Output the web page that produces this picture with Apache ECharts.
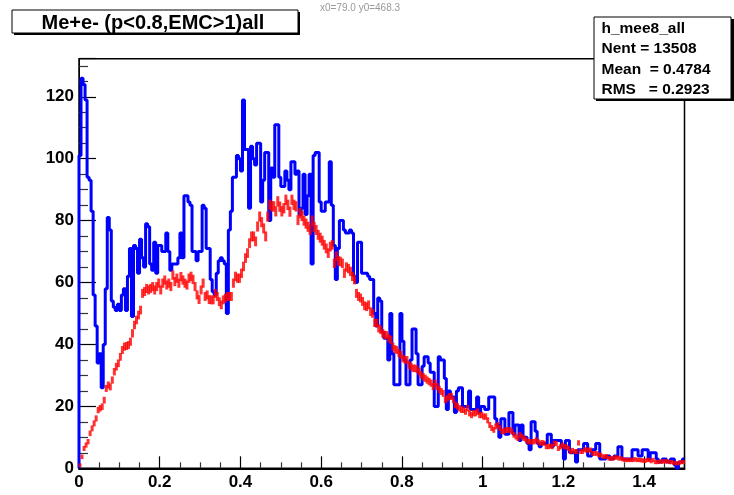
<!DOCTYPE html>
<html><head><meta charset="utf-8">
<script src="https://cdn.jsdelivr.net/npm/echarts@6/dist/echarts.min.js"></script>
<style>html,body{margin:0;padding:0;background:#fff}#c{width:734px;height:495px}#dbg{position:absolute;left:320px;top:2px;font:10px sans-serif;color:#999}</style>
</head><body><div id="c"></div><div id="dbg"></div>
<script>
window.onerror = function (m) { document.getElementById('dbg').textContent += ' ERR:' + m; };
// Histogram binning (300 bins over 0..1.5)
const binLow = 0, binWidth = 0.005;

// blue histogram: h_mee8_all counts per bin
const blueCounts = [
101,126,124,119,94,93,83,56,46,34,
37,26,40,58,81,77,54,52,51,53,
51,56,58,51,62,71,49,72,71,63,
74,68,65,79,78,66,64,73,63,72,
72,70,70,76,70,64,66,66,66,68,
76,68,88,88,86,85,70,70,67,70,
70,85,84,71,71,61,57,56,63,67,
68,67,66,50,77,83,94,94,101,100,
96,119,103,103,84,104,100,98,105,105,
86,93,102,102,80,97,94,111,111,94,
91,91,96,93,90,99,99,95,96,82,
84,95,82,88,95,66,101,102,102,86,
83,83,86,86,99,85,72,61,71,80,
80,77,76,76,77,76,62,60,73,73,
63,63,63,62,61,61,50,46,55,54,
44,42,42,35,50,37,27,27,27,50,
41,35,27,27,35,45,45,37,27,27,
33,36,36,34,31,31,20,20,36,35,
35,29,19,25,23,23,18,25,26,26,
20,20,20,25,19,19,19,23,18,20,
20,19,19,23,23,23,16,14,10,16,
16,11,11,18,18,11,14,14,9,14,
10,10,8,6,15,15,12,8,7,8,
8,8,11,11,7,9,9,9,9,7,
3,9,9,5,5,5,2,6,6,6,
8,8,4,4,6,6,8,8,3,3,
3,4,4,3,3,4,4,7,7,3,
3,3,3,3,6,6,6,4,4,6,
6,6,3,5,5,5,3,2,2,3,
3,2,2,3,3,1,0,2,2,3
];

// red histogram (drawn with markers) per bin
const redValues = [
1.0,3.7,6.4,7.5,8.6,11.3,12.9,14.5,16.1,18.8,
19.4,19.9,22.0,25.8,26.9,26.3,28.5,31.2,32.8,33.9,
36.0,38.2,39.3,39.5,39.8,40.9,43.6,46.3,47.9,49.5,
51.1,56.5,57.1,58.1,57.6,58.1,58.7,57.6,58.7,59.8,
57.6,59.8,60.8,59.2,59.8,58.7,62.4,60.3,61.4,59.8,
61.9,60.8,59.8,59.2,61.4,62.0,61.0,58.7,56.0,54.5,
57.6,59.8,55.5,56.0,54.5,54.4,54.4,56.5,55.5,53.8,
52.8,54.4,55.0,55.5,55.5,55.5,59.8,62.0,61.4,61.4,
63.0,65.2,67.9,69.5,72.7,74.9,74.9,73.3,78.1,81.3,
79.5,77.5,74.9,81.3,85.1,84.6,84.6,83.0,86.2,84.5,
83.0,84.0,86.7,85.1,82.9,86.7,85.1,84.6,80.2,82.4,
81.5,80.0,79.0,78.0,77.0,80.0,78.0,77.0,75.4,74.5,
73.5,72.2,71.0,69.5,71.6,72.2,66.2,68.5,67.0,66.8,
66.2,63.0,65.0,64.5,63.6,62.0,60.9,56.5,55.5,55.0,
53.9,52.5,52.2,52.8,50.6,50.0,47.0,46.9,45.2,44.7,
43.6,43.1,43.0,42.0,41.5,39.3,38.5,38.2,37.2,36.6,
35.5,35.0,35.0,33.4,32.9,32.3,32.3,32.0,31.2,30.2,
29.6,29.1,28.5,28.0,27.5,26.4,27.5,26.4,25.5,24.8,
24.2,22.1,22.6,23.2,23.2,22.1,20.5,20.0,19.4,18.9,
18.9,18.3,19.4,17.8,17.2,17.8,17.8,18.3,17.2,17.2,
16.7,16.7,15.5,14.0,13.0,12.4,13.5,14.0,13.0,12.0,
11.9,12.4,12.4,12.4,11.9,10.8,10.2,9.7,10.8,10.2,
9.7,9.2,8.6,8.6,8.6,8.6,9.1,8.6,8.1,8.3,
8.1,7.0,7.0,7.2,7.0,8.1,8.0,6.4,6.9,7.5,
7.0,6.9,6.4,5.4,5.8,5.4,5.4,8.2,5.4,5.4,
6.0,5.9,5.9,5.9,4.8,4.8,4.8,4.3,4.3,3.8,
3.8,3.8,3.2,3.2,3.2,3.5,3.5,3.2,3.2,2.9,
2.7,2.7,2.7,2.7,2.7,2.9,2.7,2.7,2.6,2.5,
2.4,2.7,2.7,2.3,2.7,2.0,2.0,2.1,2.2,2.2,
2.2,2.3,2.0,2.0,1.8,1.6,1.6,1.8,2.0,2.0
];

// axis ranges and tick positions
const xMax = 1.5, yMax = 132.3;
const xMajorTicks = [0,0.2,0.4,0.6,0.8,1,1.2,1.4];
const xMinorTicks = [0.05,0.1,0.15,0.25,0.3,0.35,0.45,0.5,0.55,0.65,0.7,0.75,0.85,0.9,0.95,1.05,1.1,1.15,1.25,1.3,1.35,1.45];
const yMajorTicks = [0,20,40,60,80,100,120];
const yMinorTicks = [5,10,15,25,30,35,45,50,55,65,70,75,85,90,95,105,110,115,125,130];

const titleText = 'Me+e- (p<0.8,EMC>1)all';
const statsLines = ['h_mee8_all', 'Nent = 13508', 'Mean  = 0.4784', 'RMS   = 0.2923'];

const FONT = '"Liberation Sans", Arial, Helvetica, sans-serif';

const blueLine = [[binLow, 0]];
blueCounts.forEach((v, i) => blueLine.push([binLow + i * binWidth, v]));
blueLine.push([binLow + blueCounts.length * binWidth, blueCounts[blueCounts.length - 1]]);
const redPts = redValues.map((v, i) => [binLow + (i + 0.5) * binWidth, v]);

const fmt = v => String(Math.round(v * 100) / 100);

const chart = echarts.init(document.getElementById('c'));
chart.setOption({
  animation: false,
  grid: {left: 79, right: 49.5, top: 58.7, bottom: 26.7,
         show: true, borderColor: '#000', borderWidth: 1.5, backgroundColor: 'transparent'},
  xAxis: {type: 'value', min: 0, max: xMax, interval: 0.2,
     axisLine: {show: true, onZero: false, lineStyle: {color: '#000', width: 2}},
     axisTick: {show: true, inside: true, length: 12, lineStyle: {color: '#000', width: 1.2}},
     minorTick: {show: true, splitNumber: 4, length: 6, lineStyle: {color: '#333', width: 1.2}},
     axisLabel: {show: true, showMaxLabel: false, formatter: fmt, margin: 6,
       color: '#000', fontFamily: FONT, fontWeight: 'bold', fontSize: 17},
     splitLine: {show: false}},
  yAxis: {type: 'value', min: 0, max: yMax, interval: 20,
     axisLine: {show: true, onZero: false, lineStyle: {color: '#000', width: 1}},
     axisTick: {show: true, inside: true, length: 17, lineStyle: {color: '#000', width: 1.2}},
     minorTick: {show: true, splitNumber: 4, length: 9, lineStyle: {color: '#333', width: 1.2}},
     axisLabel: {show: true, showMaxLabel: false, formatter: fmt, margin: 5,
       color: '#000', fontFamily: FONT, fontWeight: 'bold', fontSize: 17},
     splitLine: {show: false}},
  series: [
    {name: 'h_mee8_all', type: 'line', data: blueLine,
     step: 'end', symbol: 'none', clip: false, z: 3,
     lineStyle: {color: '#0000ff', width: 3}},
    {name: 'red', type: 'scatter', data: redPts,
     symbol: 'rect', z: 4,
     symbolSize: val => [3, 3 + 0.8 * Math.sqrt(Math.max(val[1], 0))],
     itemStyle: {color: '#ff0000'}}
  ],
  graphic: [
    {type: 'rect', z: 100, shape: {x: 14, y: 12, width: 286, height: 23}, style: {fill: '#000'}},
    {type: 'rect', z: 101, shape: {x: 12, y: 10, width: 286, height: 23}, style: {fill: '#fff', stroke: '#000', lineWidth: 1}},
    {type: 'text', z: 102, x: 153, y: 23, style: {text: titleText, fill: '#000', align: 'center', verticalAlign: 'middle',
      font: 'bold 20px ' + FONT}},
    {type: 'rect', z: 100, shape: {x: 596, y: 19, width: 138, height: 82}, style: {fill: '#000'}},
    {type: 'rect', z: 101, shape: {x: 594, y: 17, width: 137, height: 82}, style: {fill: '#fff', stroke: '#000', lineWidth: 1}},
    ...statsLines.map((t, k) => ({type: 'text', z: 102, x: 601.5, y: 28.7 + k * 20.5,
      style: {text: t, fill: '#000', align: 'left', verticalAlign: 'middle', font: 'bold 15.5px ' + FONT}}))
  ]
});
try {
  document.getElementById('dbg').textContent = 'x0=' + chart.convertToPixel({xAxisIndex: 0}, 0).toFixed(1) +
    ' y0=' + chart.convertToPixel({yAxisIndex: 0}, 0).toFixed(1);
} catch (e) { document.getElementById('dbg').textContent = 'E:' + e; }
</script></body></html>
